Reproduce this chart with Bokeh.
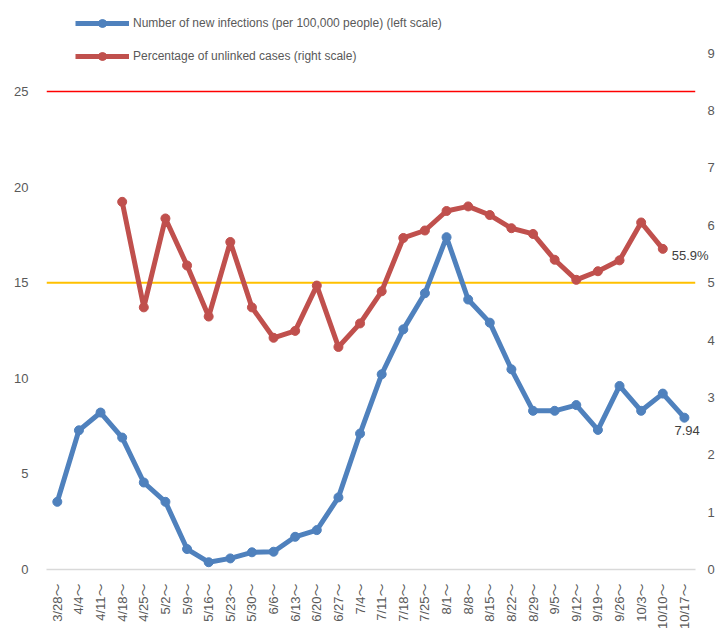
from math import pi
from bokeh.plotting import figure
from bokeh.models import (Range1d, LinearAxis, FixedTicker, Legend, LegendItem,
                          CustomJSTickFormatter, Label)
from bokeh.embed import file_html
from bokeh.resources import INLINE

weeks = ["3/28", "4/4", "4/11", "4/18", "4/25", "5/2", "5/9", "5/16", "5/23", "5/30",
         "6/6", "6/13", "6/20", "6/27", "7/4", "7/11", "7/18", "7/25", "8/1", "8/8",
         "8/15", "8/22", "8/29", "9/5", "9/12", "9/19", "9/26", "10/3", "10/10", "10/17"]
cats = [w + "〜" for w in weeks]

new_infections = [3.54, 7.28, 8.21, 6.90, 4.55, 3.54, 1.07, 0.38, 0.58, 0.90,
                  0.93, 1.71, 2.06, 3.77, 7.11, 10.21, 12.56, 14.45, 17.38, 14.12,
                  12.91, 10.47, 8.30, 8.30, 8.60, 7.30, 9.60, 8.30, 9.20, 7.94]

unlinked_weeks = weeks[3:29]
unlinked_pct = [64.1, 45.7, 61.2, 53.0, 44.1, 57.1, 45.7, 40.4, 41.6, 49.5,
                38.8, 42.9, 48.5, 57.8, 59.1, 62.5, 63.3, 61.8, 59.5, 58.5,
                54.0, 50.5, 52.0, 53.9, 60.5, 55.9]

left_ticks = [0, 5, 10, 15, 20, 25, 30]
right_ticks = [0, 10, 20, 30, 40, 50, 60, 70, 80, 90]
alert_level = 25
caution_level = 15

BLUE = "#4f81bd"
RED = "#c0504d"
GREY = "#595959"
FONT = "'Liberation Sans', 'Noto Sans CJK JP', sans-serif"

# category positions on a numeric axis (category i at i)
xpos = list(range(len(cats)))
red_xpos = [weeks.index(w) for w in unlinked_weeks]
first_edge = xpos[0] - 0.5
last_edge = xpos[-1] + 0.5

p = figure(x_range=Range1d(first_edge, 30.16), y_range=Range1d(0, 29.76),
           width=717, height=632, output_backend="svg", toolbar_location=None,
           min_border_left=46, min_border_right=0, min_border_top=0, min_border_bottom=62)
p.extra_y_ranges = {"pct": Range1d(0, 99.2)}
p.outline_line_color = None
p.xgrid.visible = False
p.ygrid.visible = False
p.background_fill_color = "white"

# x axis (line only under the categories)
xa = p.xaxis[0]
xa.ticker = FixedTicker(ticks=xpos)
xa.major_label_overrides = {i: c for i, c in zip(xpos, cats)}
xa.bounds = (first_edge, last_edge)
xa.axis_line_color = "#d9d9d9"
xa.axis_line_width = 1.5
xa.major_tick_line_color = None
xa.minor_tick_line_color = None
xa.major_label_orientation = pi / 2
xa.major_label_text_font = FONT
xa.major_label_text_font_size = "13px"
xa.major_label_text_color = GREY
xa.major_label_standoff = 8

# left axis
ya = p.yaxis[0]
ya.ticker = FixedTicker(ticks=left_ticks)
ya.axis_line_color = None
ya.major_tick_line_color = None
ya.minor_tick_line_color = None
ya.major_tick_out = 0
ya.major_tick_in = 0
ya.minor_tick_out = 0
ya.major_label_standoff = 18
ya.major_label_text_font = FONT
ya.major_label_text_font_size = "13px"
ya.major_label_text_color = GREY

# right axis
ra = LinearAxis(y_range_name="pct", ticker=FixedTicker(ticks=right_ticks),
                formatter=CustomJSTickFormatter(code="return (tick/10).toFixed(0)"))
ra.axis_line_color = None
ra.major_tick_line_color = None
ra.minor_tick_line_color = None
ra.major_tick_out = 0
ra.major_tick_in = 0
ra.minor_tick_out = 0
ra.major_label_standoff = -2
ra.major_label_text_font = FONT
ra.major_label_text_font_size = "13px"
ra.major_label_text_color = GREY
p.add_layout(ra, "right")

# reference lines across the category area
p.segment(x0=[first_edge], x1=[last_edge], y0=[alert_level], y1=[alert_level],
          line_color="#ff0000", line_width=1.5)
p.segment(x0=[first_edge], x1=[last_edge], y0=[caution_level], y1=[caution_level],
          line_color="#ffc000", line_width=2)

# series
bl = p.line(xpos, new_infections, line_color=BLUE, line_width=5, line_join="round")
bs = p.scatter(xpos, new_infections, size=9, fill_color=BLUE, line_color=BLUE)
rl = p.line(red_xpos, unlinked_pct, y_range_name="pct", line_color=RED, line_width=5,
            line_join="round")
rs = p.scatter(red_xpos, unlinked_pct, y_range_name="pct", size=9, fill_color=RED,
               line_color=RED)

# end labels
p.add_layout(Label(x=red_xpos[-1], y=unlinked_pct[-1], y_range_name="pct",
                   text=f"{unlinked_pct[-1]}%", x_offset=9, y_offset=-7,
                   text_font=FONT, text_font_size="13px", text_color="#404040",
                   text_baseline="middle", text_align="left"))
p.add_layout(Label(x=xpos[-1], y=new_infections[-1], text=f"{new_infections[-1]}",
                   x_offset=-10, y_offset=-12.5,
                   text_font=FONT, text_font_size="13px", text_color="#404040",
                   text_baseline="middle", text_align="left"))

legend = Legend(items=[
    LegendItem(label="Number of new infections (per 100,000 people) (left scale)", renderers=[bl, bs]),
    LegendItem(label="Percentage of unlinked cases (right scale)", renderers=[rl, rs]),
], location=(29, 503), orientation="vertical", glyph_width=54, glyph_height=20,
    label_height=20, label_standoff=4, spacing=13, padding=0, margin=0,
    background_fill_alpha=0, border_line_alpha=0, label_text_font=FONT,
    label_text_font_size="12px", label_text_color=GREY)
p.add_layout(legend)

open("out.html", "w").write(file_html(p, INLINE))
